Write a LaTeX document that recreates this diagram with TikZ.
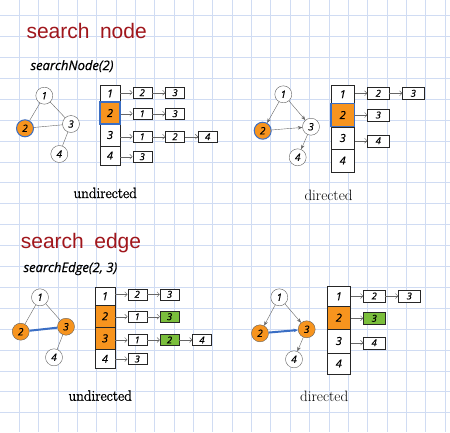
\documentclass[tikz,border=0pt]{standalone}
\usepackage{fontspec}
\usepackage{tikz}
\usetikzlibrary{arrows.meta}
\newfontfamily\hand{Open Sans}[FakeBold=0.5]
\newfontfamily\headfont{Liberation Sans}
\newfontfamily\heavyserif{Latin Modern Roman}[FakeBold=1.5]
\definecolor{gridblue}{RGB}{208,220,243}
\definecolor{titlered}{RGB}{160,22,28}
\definecolor{nodeorange}{RGB}{247,148,30}
\definecolor{hitgreen}{RGB}{122,190,60}
\definecolor{pathblue}{RGB}{58,110,196}

\begin{document}
\begin{tikzpicture}[x=1pt, y=-1pt,
    vtx/.style={circle, draw=gray!75!black, fill=white, minimum size=17pt, inner sep=0pt,
        font=\hand\itshape\fontsize{10}{10}\selectfont},
    cell/.style={draw=black!85, fill=white, inner sep=0pt,
        font=\hand\itshape\fontsize{11}{11}\selectfont},
    item/.style={draw=black!85, fill=white, minimum width=19pt, minimum height=11pt, inner sep=0pt,
        font=\hand\itshape\fontsize{9.5}{9.5}\selectfont},
    link/.style={draw=gray!80!black, -{Straight Barb[length=2.5pt, width=5pt]}},
    arc/.style={draw=gray!80!black, -{Stealth[length=4.5pt, width=3.5pt]}},
    title/.style={anchor=base west, text=titlered, font=\headfont\fontsize{21}{21}\selectfont},
    call/.style={anchor=base west, font=\hand\itshape\fontsize{13}{13}\selectfont},
    caption/.style={anchor=base west, font=\fontsize{15}{15}\selectfont}
]
    \useasboundingbox (0,0) rectangle (450,432);
    \fill[white] (0,0) rectangle (450,432);

    % paper grid
    \foreach \gx in {1,...,23}
        \draw[gridblue, line width=0.9pt] ({19.35*\gx},0) -- ({19.35*\gx},432);
    \foreach \gy in {0,...,19}
        \draw[gridblue, line width=0.9pt] (0,{15.7+20.9*\gy}) -- (450,{15.7+20.9*\gy});


    \node[title] (headA) at (23,38) {search\hspace{.5em}node};
    \node[call] (callA) at (27,70) {searchNode(2)};

    \node[vtx] (gA1) at (44.3,95.7) {1};
    \node[vtx, fill=nodeorange, draw=pathblue, line width=1pt] (gA2) at (25,128.3) {2};
    \node[vtx] (gA3) at (71,124) {3};
    \node[vtx] (gA4) at (59.3,154) {4};
    \draw[gray!80!black] (gA1) -- (gA2);
    \draw[gray!80!black] (gA1) -- (gA3);
    \draw[gray!80!black] (gA2) -- (gA3);
    \draw[gray!80!black] (gA3) -- (gA4);

    \node[cell, minimum width=20pt, minimum height=17pt] (tA1) at (110,93.5) {1};
    \node[cell, minimum width=20pt, minimum height=22pt] (tA3) at (110,135) {3};
    \node[cell, minimum width=20pt, minimum height=19pt] (tA4) at (110,155.5) {4};
    \node[cell, minimum width=20pt, minimum height=22pt, fill=nodeorange, draw=pathblue, line width=1.2pt] (tA2) at (110,113) {2};

    \node[item] (tA1a) at (142.2,92.7) {2};
    \node[item] (tA1b) at (175,92.7) {3};
    \node[item] (tA2a) at (142.2,113.7) {1};
    \node[item] (tA2b) at (175,113.7) {3};
    \node[item] (tA3a) at (142.2,136.7) {1};
    \node[item] (tA3b) at (175,136.7) {2};
    \node[item] (tA3c) at (207.7,136.7) {4};
    \node[item] (tA4a) at (142.2,156.7) {3};
    \draw[link] (tA1a -| tA1.east) -- (tA1a);
    \draw[link] (tA1a) -- (tA1b);
    \draw[link] (tA2a -| tA2.east) -- (tA2a);
    \draw[link] (tA2a) -- (tA2b);
    \draw[link] (tA3a -| tA3.east) -- (tA3a);
    \draw[link] (tA3a) -- (tA3b);
    \draw[link] (tA3b) -- (tA3c);
    \draw[link] (tA4a -| tA4.east) -- (tA4a);

    \node[caption, font=\heavyserif\fontsize{15}{15}\selectfont] (capA) at (70,198) {undirected};


    \node[vtx] (gB1) at (283.3,94.3) {1};
    \node[vtx, fill=nodeorange, draw=pathblue, line width=1pt] (gB2) at (262.7,130.7) {2};
    \node[vtx] (gB3) at (311,126.7) {3};
    \node[vtx] (gB4) at (297.7,157.3) {4};
    \draw[arc] (gB1) -- (gB2);
    \draw[arc] (gB1) -- (gB3);
    \draw[arc] (gB2) -- (gB3);
    \draw[arc] (gB3) -- (gB4);

    \node[cell, minimum width=23.3pt, minimum height=18.3pt] (tB1) at (342.7,94.2) {1};
    \node[cell, minimum width=23.3pt, minimum height=22.6pt] (tB3) at (342.7,138) {3};
    \node[cell, minimum width=23.3pt, minimum height=22.4pt] (tB4) at (342.7,160.5) {4};
    \node[cell, minimum width=23.3pt, minimum height=23.4pt, fill=nodeorange, draw=pathblue, line width=1.2pt] (tB2) at (342.7,115) {2};

    \node[item, minimum width=21.5pt, minimum height=12pt] (tB1a) at (378.3,93.3) {2};
    \node[item, minimum width=21.5pt, minimum height=12pt] (tB1b) at (413.3,93.3) {3};
    \node[item, minimum width=21.5pt, minimum height=12pt] (tB2a) at (378.3,115) {3};
    \node[item, minimum width=21.5pt, minimum height=12pt] (tB3a) at (378.3,140.7) {4};
    \draw[link] (tB1a -| tB1.east) -- (tB1a);
    \draw[link] (tB1a) -- (tB1b);
    \draw[link] (tB2a -| tB2.east) -- (tB2a);
    \draw[link] (tB3a -| tB3.east) -- (tB3a);

    \node[caption] (capB) at (301,200) {directed};


    \node[title] (headC) at (17.3,248.3) {search\hspace{.5em}edge};
    \node[call] (callC) at (20,272) {searchEdge(2, 3)};

    \node[vtx] (gC1) at (40,297.3) {1};
    \node[vtx, fill=nodeorange] (gC2) at (20.7,331.7) {2};
    \node[vtx, fill=nodeorange] (gC3) at (66,326.7) {3};
    \node[vtx] (gC4) at (54,357.3) {4};
    \draw[gray!80!black] (gC1) -- (gC2);
    \draw[gray!80!black] (gC1) -- (gC3);
    \draw[pathblue, line width=2pt] (gC2) -- (gC3);
    \draw[gray!80!black] (gC3) -- (gC4);

    \node[cell, minimum width=20pt, minimum height=17.7pt] (tC1) at (105,296.2) {1};
    \node[cell, minimum width=20pt, minimum height=22.3pt, fill=nodeorange] (tC2) at (105,316.2) {2};
    \node[cell, minimum width=20pt, minimum height=22pt, fill=nodeorange] (tC3) at (105,338.3) {3};
    \node[cell, minimum width=20pt, minimum height=19pt] (tC4) at (105,358.8) {4};

    \node[item] (tC1a) at (137.2,294.3) {2};
    \node[item] (tC1b) at (169.5,294.3) {3};
    \node[item] (tC2a) at (137.2,316.7) {1};
    \node[item, fill=hitgreen] (tC2b) at (169.5,316.7) {3};
    \node[item] (tC3a) at (137.2,340) {1};
    \node[item, fill=hitgreen] (tC3b) at (169.5,340) {2};
    \node[item] (tC3c) at (202,340) {4};
    \node[item] (tC4a) at (137.2,359) {3};
    \draw[link] (tC1a -| tC1.east) -- (tC1a);
    \draw[link] (tC1a) -- (tC1b);
    \draw[link] (tC2a -| tC2.east) -- (tC2a);
    \draw[link] (tC2a) -- (tC2b);
    \draw[link] (tC3a -| tC3.east) -- (tC3a);
    \draw[link] (tC3a) -- (tC3b);
    \draw[link] (tC3b) -- (tC3c);
    \draw[link] (tC4a -| tC4.east) -- (tC4a);

    \node[caption, font=\heavyserif\fontsize{15}{15}\selectfont] (capC) at (65,400.7) {undirected};


    \node[vtx] (gD1) at (279.3,297.3) {1};
    \node[vtx, fill=nodeorange] (gD2) at (260,333.3) {2};
    \node[vtx, fill=nodeorange] (gD3) at (306.7,329.3) {3};
    \node[vtx] (gD4) at (294,359.3) {4};
    \draw[arc] (gD1) -- (gD2);
    \draw[arc] (gD1) -- (gD3);
    \draw[arc, draw=pathblue, line width=2pt] (gD2) -- (gD3);
    \draw[arc] (gD3) -- (gD4);

    \node[cell, minimum width=23pt, minimum height=19.3pt] (tD1) at (338.8,296.3) {1};
    \node[cell, minimum width=23pt, minimum height=23.3pt, fill=nodeorange] (tD2) at (338.8,317.7) {2};
    \node[cell, minimum width=23pt, minimum height=23.4pt] (tD3) at (338.8,341) {3};
    \node[cell, minimum width=23pt, minimum height=21.6pt] (tD4) at (338.8,363.5) {4};

    \node[item, minimum width=21.5pt, minimum height=12pt] (tD1a) at (374.2,296) {2};
    \node[item, minimum width=21.5pt, minimum height=12pt] (tD1b) at (409.2,296) {3};
    \node[item, minimum width=21.5pt, minimum height=12pt, fill=hitgreen] (tD2a) at (374.2,318.3) {3};
    \node[item, minimum width=21.5pt, minimum height=12pt] (tD3a) at (374.2,342.7) {4};
    \draw[link] (tD1a -| tD1.east) -- (tD1a);
    \draw[link] (tD1a) -- (tD1b);
    \draw[link] (tD2a -| tD2.east) -- (tD2a);
    \draw[link] (tD3a -| tD3.east) -- (tD3a);

    \node[caption] (capD) at (296.7,401.7) {directed};
\end{tikzpicture}
\end{document}
